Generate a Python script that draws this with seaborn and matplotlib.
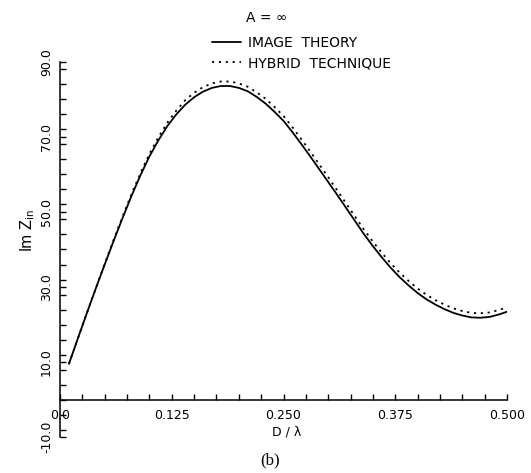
import numpy as np
import pandas as pd
import matplotlib
matplotlib.use("Agg")
import matplotlib.pyplot as plt
import seaborn as sns
from matplotlib.ticker import MultipleLocator

# ---- data ----
d_lambda = [0.01, 0.02, 0.03, 0.04, 0.05, 0.06, 0.07, 0.08, 0.09, 0.10,
            0.11, 0.12, 0.13, 0.14, 0.15, 0.16, 0.17, 0.18, 0.19, 0.20,
            0.21, 0.22, 0.23, 0.24, 0.25, 0.26, 0.27, 0.28, 0.29, 0.30,
            0.31, 0.32, 0.33, 0.34, 0.35, 0.36, 0.37, 0.38, 0.39, 0.40,
            0.41, 0.42, 0.43, 0.44, 0.45, 0.46, 0.47, 0.48, 0.49, 0.50]
image_theory = [9.5, 16.3, 23.0, 29.6, 36.0, 42.3, 48.4, 54.3, 59.8, 64.8,
                69.1, 72.9, 76.0, 78.6, 80.6, 82.1, 83.1, 83.6, 83.6, 83.1,
                82.2, 80.7, 78.9, 76.7, 74.3, 71.3, 68.1, 64.8, 61.4, 58.0,
                54.6, 51.1, 47.6, 44.1, 40.9, 37.9, 35.1, 32.6, 30.4, 28.4,
                26.7, 25.3, 24.1, 23.1, 22.4, 21.9, 21.8, 22.0, 22.6, 23.4]
hybrid = [9.5, 16.3, 23.0, 29.6, 36.2, 42.6, 48.8, 54.8, 60.4, 65.5,
          69.9, 73.8, 77.0, 79.8, 81.8, 83.3, 84.3, 84.8, 84.8, 84.3,
          83.4, 81.9, 80.2, 78.0, 75.6, 72.6, 69.4, 66.1, 62.7, 59.3,
          55.8, 52.3, 48.8, 45.3, 42.1, 39.1, 36.3, 33.8, 31.6, 29.6,
          27.9, 26.5, 25.3, 24.3, 23.6, 23.1, 23.0, 23.2, 23.8, 24.6]
series_names = ["IMAGE  THEORY", "HYBRID  TECHNIQUE"]
x_ticks = [0.0, 0.125, 0.25, 0.375, 0.5]
x_ticklabels = ["0.0", "0.125", "0.250", "0.375", "0.500"]
y_ticks = [-10, 10, 30, 50, 70, 90]
y_ticklabels = ["-10.0", "10.0", "30.0", "50.0", "70.0", "90.0"]

df = pd.concat([
    pd.DataFrame({"x": d_lambda, "y": image_theory, "series": series_names[0]}),
    pd.DataFrame({"x": d_lambda, "y": hybrid, "series": series_names[1]}),
], ignore_index=True)

sns.set_style("ticks")
plt.rcParams["font.family"] = ["DejaVu Sans"]
plt.rcParams["text.color"] = "black"
plt.rcParams["axes.labelcolor"] = "black"
plt.rcParams["xtick.color"] = "black"
plt.rcParams["ytick.color"] = "black"

fig = plt.figure(figsize=(5.31, 4.73), dpi=100)
ax = fig.add_axes([60/531, 36/473, 447/531, 375/473])

sns.lineplot(data=df, x="x", y="y", hue="series", style="series",
             palette={series_names[0]: "black", series_names[1]: "black"},
             dashes={series_names[0]: "", series_names[1]: (1.2, 2.6)},
             linewidth=1.3, ax=ax, sort=False)

ax.set_xlim(0, 0.5)
ax.set_ylim(-10, 90)
ax.spines["top"].set_visible(False)
ax.spines["right"].set_visible(False)
ax.spines["bottom"].set_position(("data", 0))
for s in ("left", "bottom"):
    ax.spines[s].set_linewidth(1.1)
    ax.spines[s].set_color("black")

ax.set_xticks(x_ticks)
ax.set_xticklabels(x_ticklabels)
ax.set_yticks(y_ticks)
ax.set_yticklabels(y_ticklabels)
ax.xaxis.set_minor_locator(MultipleLocator(0.025))
ax.yaxis.set_minor_locator(MultipleLocator(4))
ax.tick_params(which="both", direction="in", length=4, width=1.0, colors="black")
ax.tick_params(axis="x", which="major", pad=7, labelsize=9)
ax.tick_params(axis="y", which="major", pad=5, labelsize=9, labelrotation=90)
for lab in ax.get_yticklabels():
    lab.set_va("center")

ax.set_xlabel("D / λ", fontsize=9)
ax.xaxis.set_label_coords(0.508, 0.013)
ax.xaxis.label.set_va("center")
ax.set_ylabel(r"Im Z$_{\mathregular{in}}$", fontsize=10.5)
ax.yaxis.set_label_coords(-32/447, (437-230)/375)
ax.yaxis.label.set_va("center")

leg = ax.legend(loc="upper left", bbox_to_anchor=(212/531, 1-36/473),
                bbox_transform=fig.transFigure, frameon=False,
                fontsize=10, handlelength=2.1, handletextpad=0.5,
                labelspacing=0.45, borderaxespad=0, borderpad=0)
for h in leg.get_lines():
    h.set_color("black")
for t in leg.get_texts():
    t.set_color("black")

fig.text(246/531, 1-18/473, "A = ∞", fontsize=10, ha="left", va="center")
fig.text(270/531, 1-460/473, "(b)", fontsize=12, ha="center", va="center",
         family=["Liberation Serif", "DejaVu Serif"])

fig.savefig("out.png", dpi=100)
